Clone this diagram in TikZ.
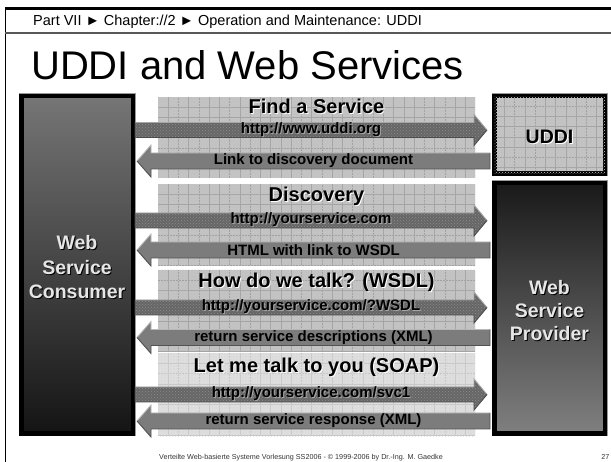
\documentclass[tikz,border=0pt]{standalone}
\usepackage{fontspec}
\setmainfont{Liberation Sans}
\usetikzlibrary{calc,patterns}

\definecolor{bandfill}{HTML}{C2C2C2}
\definecolor{bandgrid}{HTML}{A2A2A2}
\definecolor{bandfillL}{HTML}{DEDEDE}
\definecolor{bandgridL}{HTML}{C8C8C8}
\definecolor{reqfill}{HTML}{666666}
\definecolor{respfill}{HTML}{7C7C7C}
\definecolor{boxtext}{HTML}{E6E6E6}
\definecolor{rulegray}{HTML}{585858}

% text with a small drop shadow: #1 text colour, #2 shadow colour, #3 text
\newcommand\shadowed[3]{\leavevmode\rlap{\hspace{1pt}\raisebox{-1pt}{\color{#2}#3}}{\color{#1}#3}}
\newcommand\fsz[1]{\fontsize{#1}{#1}\selectfont}

% block arrow from tail #2 to tip #3; #4 half shaft, #5 half head, #6 head length
% #1 fill style, #7 upper edge colour, #8 lower edge colour
\newcommand\blockarrow[8]{%
  \fill[#1] let \p1=(#2), \p2=(#3), \n1={sign(\x2-\x1)} in
    (\x2,\y2) -- ({\x2-\n1*#6},{\y2+#5}) -- ({\x2-\n1*#6},{\y2+#4}) -- ({\x1},{\y1+#4})
    -- ({\x1},{\y1-#4}) -- ({\x2-\n1*#6},{\y2-#4}) -- ({\x2-\n1*#6},{\y2-#5}) -- cycle;
  \draw[#7, line width=0.9pt] let \p1=(#2), \p2=(#3), \n1={sign(\x2-\x1)} in
    ({\x1},{\y1+#4}) -- ({\x2-\n1*#6},{\y2+#4}) -- ({\x2-\n1*#6},{\y2+#5}) -- (\x2,\y2);
  \draw[#8, line width=0.9pt] let \p1=(#2), \p2=(#3), \n1={sign(\x2-\x1)} in
    (\x2,\y2) -- ({\x2-\n1*#6},{\y2-#5}) -- ({\x2-\n1*#6},{\y2-#4}) -- ({\x1},{\y1-#4}) -- ({\x1},{\y1+#4});
}

% request arrow: consumer -> #2, row at #3, label #4, names prefixed #1
\newcommand\request[4]{%
  \path (0,#3) coordinate (#1row);
  \coordinate (#1a) at (consumer.east |- #1row);
  \coordinate (#1b) at ($(#2.west |- #1row)+(-5,0)$);
  \blockarrow{reqarrow}{#1a}{#1b}{7.5pt}{15.5pt}{13pt}{black!35}{black!70}
  \node[reqlabel] (#1t) at ($(#1a)!0.5!(#1b)$) {\shadowed{black}{black!35}{#4}};
}
% response arrow: #2 -> consumer
\newcommand\response[4]{%
  \path (0,#3) coordinate (#1row);
  \coordinate (#1a) at ($(#2.west |- #1row)+(-2,0)$);
  \coordinate (#1b) at ($(consumer.east |- #1row)+(2,0)$);
  \blockarrow{respfill}{#1a}{#1b}{8pt}{16pt}{14pt}{black!28}{black!68}
  \node[resplabel] (#1t) at ($(#1a)!0.5!(#1b)$) {#4};
}

\begin{document}
\begin{tikzpicture}[x=1pt, y=-1pt,
  gridded/.style={path picture={
    \foreach \k in {1,...,31}{\draw[#1, line width=0.8pt]
      ([xshift=\k*10.25pt]path picture bounding box.north west) --
      ([xshift=\k*10.25pt]path picture bounding box.south west);}
    \foreach \k in {1,...,9}{\draw[#1, line width=0.8pt]
      ([yshift=-\k*10.2pt]path picture bounding box.north west) --
      ([yshift=-\k*10.2pt]path picture bounding box.north east);}}},
  band/.style={rectangle, inner sep=0pt, outer sep=0pt, anchor=north west,
    minimum width=317pt, fill=bandfill, gridded=bandgrid,
    postaction={pattern=crosshatch dots, pattern color=black!22}},
  bandlight/.style={band, fill=bandfillL, gridded=bandgridL,
    postaction={pattern=crosshatch dots, pattern color=black!10}},
  hostbox/.style={rectangle, draw=black, line width=4.5pt, outer sep=2.25pt,
    inner sep=0pt, align=center, preaction={draw=black!40, line width=5.5pt},
    font=\bfseries\fontsize{19.5}{24}\selectfont},
  boxlabel/.style={inner sep=0pt, align=center, font=\bfseries\fontsize{19.5}{#1}\selectfont},
  reqarrow/.style={fill=reqfill, postaction={pattern=crosshatch dots, pattern color=black!45}},
  reqlabel/.style={inner sep=0pt, font=\bfseries\fsz{15}},
  resplabel/.style={inner sep=0pt, font=\bfseries\fsz{15}},
  bandtitle/.style={inner sep=0pt, font=\bfseries\fsz{20}},
]
\useasboundingbox (0,0) rectangle (611,462);

% page frame and header rule
\draw[black, line width=2.5pt] (4.75,8.5) -- (611,8.5);
\draw[black, line width=1.5pt] (5.5,7.5) -- (5.5,462);
\draw[rulegray, line width=2pt] (5,33) -- (611,33);

\node[anchor=base west, inner sep=0pt, font=\fsz{14.5}] (crumb) at (33,26)
  {Part VII ► Chapter://2 ► Operation and Maintenance: UDDI};
\node[anchor=base west, inner sep=0pt, font=\fsz{40}] (title) at (31,80)
  {UDDI and Web Services};

% message bands
\node[band, minimum height=81pt] (band1) at (158,97) {};
\node[band, minimum height=82pt] (band2) at (158,184) {};
\node[band, minimum height=82pt] (band3) at (158,270) {};
\node[bandlight, minimum height=83pt] (band4) at (158,353.5) {};

% parties
\node[hostbox, minimum width=111.5pt, minimum height=337.5pt,
  top color=black!54, middle color=black!66, bottom color=black!92] (consumer) at (77,265) {};
\node[boxlabel=24.5] (consumerlabel) at (77,268)
  {\shadowed{boxtext}{black}{Web}\\\shadowed{boxtext}{black}{Service}\\\shadowed{boxtext}{black}{Consumer}};
\node[hostbox, minimum width=110.5pt, minimum height=77.5pt, fill=bandfill, gridded=bandgrid,
  postaction={pattern=crosshatch dots, pattern color=black!22}] (uddi) at (549.5,135) {};
\node[boxlabel=24] (uddilabel) at (549.5,137) {\shadowed{black}{white}{UDDI}};
\node[hostbox, minimum width=110.5pt, minimum height=250.5pt,
  top color=black!90, middle color=black!72, bottom color=black!50] (provider) at (549.5,308.5) {};
\node[boxlabel=23] (providerlabel) at (549.5,311.5)
  {\shadowed{boxtext}{black}{Web}\\\shadowed{boxtext}{black}{Service}\\\shadowed{boxtext}{black}{Provider}};

% band titles
\node[bandtitle] (t1) at (316.5,107) {\shadowed{black}{white}{Find a Service}};
\node[bandtitle] (t2) at (316.5,197) {\shadowed{black}{white}{Discovery}};
\node[bandtitle] (t3) at (316.5,283) {\shadowed{black}{white}{How do we talk? (WSDL)}};
\node[bandtitle] (t4) at (316.5,368) {\shadowed{black}{white}{Let me talk to you (SOAP)}};

% requests and responses
\request{qa}{uddi}{130}{http://www.uddi.org}
\response{ra}{uddi}{161}{Link to discovery document}
\request{qb}{provider}{220.5}{http://yourservice.com}
\response{rb}{provider}{250}{HTML with link to WSDL}
\request{qc}{provider}{307.5}{http://yourservice.com/?WSDL}
\response{rc}{provider}{337.5}{return service descriptions (XML)}
\request{qd}{provider}{394.5}{http://yourservice.com/svc1}
\response{rd}{provider}{421}{return service response (XML)}

% footer
\node[anchor=base, inner sep=0pt, font=\fsz{7.2}, text=black!80] (footer) at (301,459.5)
  {Verteilte Web-basierte Systeme Vorlesung SS2006 - © 1999-2006 by Dr.-Ing. M. Gaedke};
\node[anchor=base east, inner sep=0pt, font=\fsz{7.2}, text=black!80] (pageno) at (609.5,459.5) {27};
\end{tikzpicture}
\end{document}
